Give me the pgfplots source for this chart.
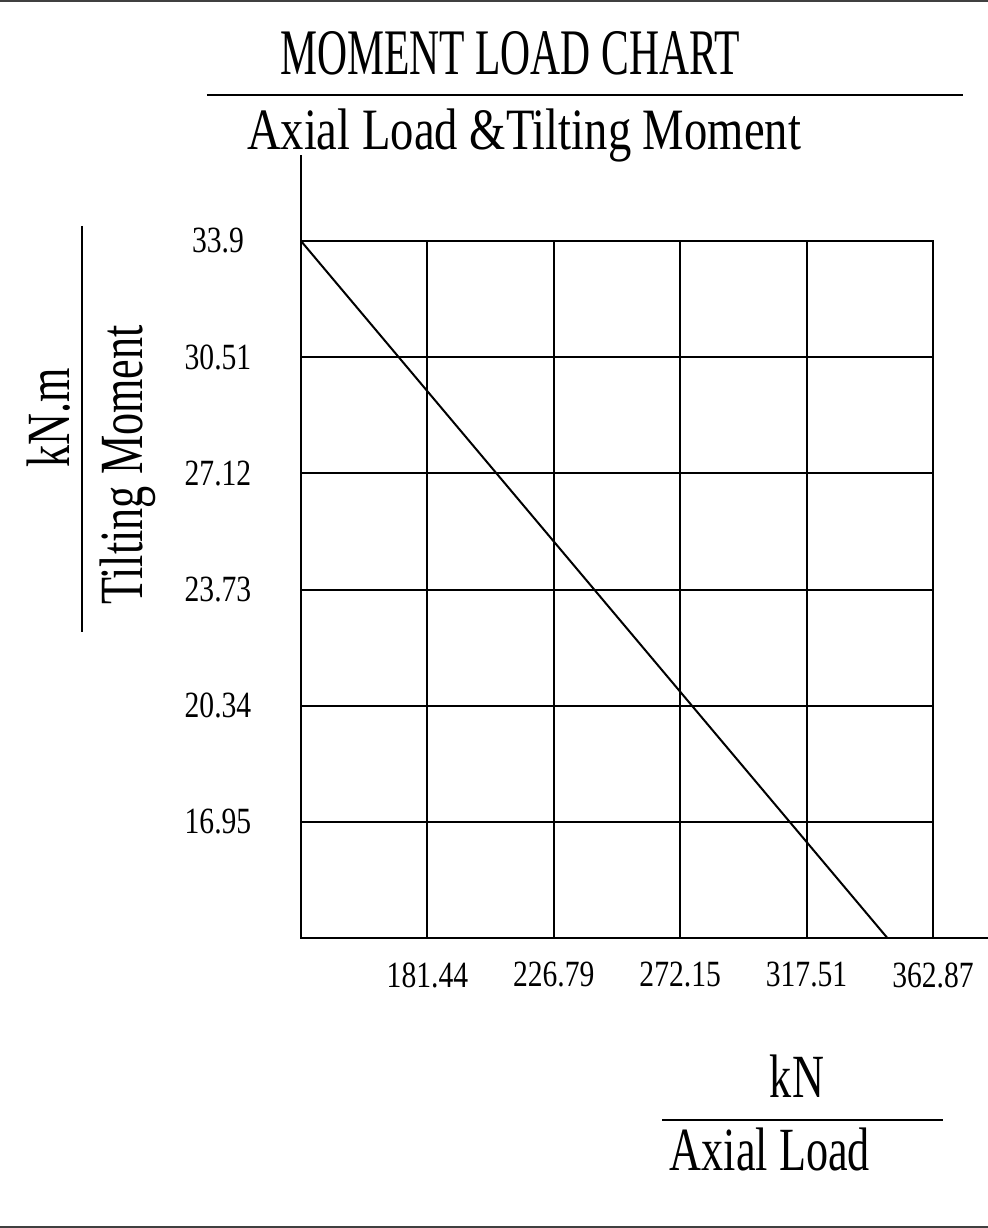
\documentclass[border=0pt]{standalone}
\usepackage{fontspec}
\setmainfont{Liberation Serif}[FakeStretch=0.8]
\newfontfamily\labelfont{Liberation Serif}[FakeStretch=0.72]
\newfontfamily\titlefont{Liberation Serif}[FakeStretch=0.64]
\usepackage{pgfplots}
\pgfplotsset{compat=1.18}

\begin{document}
\begin{tikzpicture}
  \begin{axis}[
      at={(0,0)}, anchor=south west,
      scale only axis,
      width=316pt, height=348.5pt,
      xmin=136.08, xmax=362.87,
      ymin=13.56, ymax=33.9,
      xtick={181.44,226.79,272.15,317.51,362.87},
      xticklabels={181.44,226.79,272.15,317.51,362.87},
      ytick={16.95,20.34,23.73,27.12,30.51,33.9},
      yticklabels={16.95,20.34,23.73,27.12,30.51,33.9},
      tick style={draw=none},
      grid=major,
      major grid style={black, line width=1pt},
      axis line style={black, line width=1pt},
      xticklabel style={anchor=center, yshift=-18.5pt, font=\fontsize{18.5}{20}\selectfont},
      yticklabel style={anchor=center, xshift=-41.5pt, font=\fontsize{18.5}{20}\selectfont},
    ]
    \addplot[black, line width=1pt] coordinates {
      (136.08, 33.9)
      (346.5, 13.56)
    };
  \end{axis}

  % axis line extensions
  \draw[line width=1pt] (0,348.5pt) -- (0,391.5pt);
  \draw[line width=1pt] (316pt,0) -- (343.5pt,0);

  % title block
  \node[anchor=base, inner sep=0] at (104.5pt,431.5pt)
    {\titlefont\fontsize{32.5}{36}\selectfont MOMENT LOAD CHART};
  \draw[line width=1pt] (-47pt,421.5pt) -- (331pt,421.5pt);
  \node[anchor=base, inner sep=0] at (111.5pt,394pt)
    {\labelfont\fontsize{29.3}{33}\selectfont\scalebox{1.105}[1]{Axial Load \&Tilting Moment}};

  % y label
  \node[anchor=base, rotate=90, inner sep=0] at (-115.5pt,260pt)
    {\labelfont\fontsize{30.7}{34}\selectfont kN.m};
  \draw[line width=1pt] (-109.5pt,356pt) -- (-109.5pt,153pt);
  \node[anchor=base, rotate=90, inner sep=0] at (-79pt,236.5pt)
    {\labelfont\fontsize{30.7}{34}\selectfont Tilting Moment};

  % x label
  \node[anchor=base, inner sep=0] at (248pt,-79.5pt)
    {\labelfont\fontsize{30.7}{34}\selectfont kN};
  \draw[line width=1pt] (180.5pt,-91pt) -- (321pt,-91pt);
  \node[anchor=base, inner sep=0] at (234.5pt,-116pt)
    {\labelfont\fontsize{30.7}{34}\selectfont Axial Load};

  % frame lines
  \draw[line width=1pt, black!75] (-150.5pt,468.5pt) -- (343.5pt,468.5pt);
  \draw[line width=1pt, black!75] (-150.5pt,-144.5pt) -- (343.5pt,-144.5pt);

  \pgfresetboundingbox
  \path[use as bounding box] (-150.5pt,-145pt) rectangle (343.5pt,469pt);
\end{tikzpicture}
\end{document}
